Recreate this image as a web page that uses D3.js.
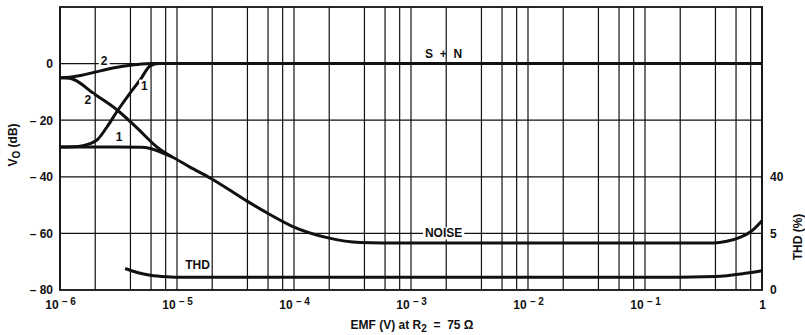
<!DOCTYPE html>
<html>
<head>
<meta charset="utf-8">
<title>S+N, Noise and THD vs EMF</title>
<script src="https://cdn.jsdelivr.net/npm/d3@7"></script>
<style>
  body { margin: 0; background: #fff; }
  svg text { font-family: "Liberation Sans", Arial, sans-serif; font-weight: bold; fill: #111; }
</style>
</head>
<body>
<script>
// curve data (EMF in volts, Vo in dB, THD in %)
var sn2X = [1e-6, 1.2e-6, 1.5e-6, 2e-6, 3e-6, 4e-6, 5e-6, 6e-6, 1e-5, 1];
var sn2Db = [-5, -4.8, -4.2, -3, -1.4, -0.6, -0.15, 0, 0, 0];

var sn1X = [1e-6, 1.3e-6, 1.57e-6, 1.8e-6, 2.07e-6, 2.52e-6, 3.13e-6, 3.97e-6, 4.84e-6, 5.9e-6, 7e-6, 1];
var sn1Db = [-29.5, -29.4, -29, -28.3, -27, -22.4, -16.4, -10.4, -5.8, -0.8, 0, 0];

var noise2X = [1e-6, 1.2e-6, 1.34e-6, 1.91e-6, 3.08e-6, 4.57e-6, 6.76e-6, 9.1e-6];
var noise2Db = [-5, -5.2, -5.8, -10.4, -16.4, -22.8, -29.5, -33];

var noise1X = [1e-6, 3e-6, 5e-6, 5.9e-6, 7.5e-6, 9.1e-6, 1.29e-5, 1.92e-5, 3.83e-5, 5.9e-5, 9.66e-5,
               1.92e-4, 3.68e-4, 8.7e-4, 1e-2, 1e-1, 0.386, 0.5, 0.656, 0.8, 1];
var noise1Db = [-29.5, -29.5, -29.6, -30, -31.5, -33, -36.6, -40.4, -48.2, -52.8, -57.5,
                -61.5, -63.2, -63.4, -63.4, -63.4, -63.4, -62.8, -61.3, -59.4, -55.5];

var thdX = [3.6e-6, 4.57e-6, 5.9e-6, 8.7e-6, 1e-5, 1e-3, 1e-1, 0.4, 0.7, 1];
var thdPct = [1.9, 1.55, 1.3, 1.15, 1.12, 1.12, 1.12, 1.2, 1.45, 1.7];

// axes
var yTicks = [0, -20, -40, -60, -80];
var yTickLabels = ["0", "\u2013 20", "\u2013 40", "\u2013 60", "\u2013 80"];
var xDecades = [1e-6, 1e-5, 1e-4, 1e-3, 1e-2, 1e-1, 1];
var xTickExponents = ["\u2013 6", "\u2013 5", "\u2013 4", "\u2013 3", "\u2013 2", "\u2013 1", ""];
var gridMultipliers = [1, 2, 4, 6, 8];
var thdTicks = [0, 5, 40];
var thdTickLabels = ["0", "5", "40"];

// curve labels: [text, EMF, dB]
var curveLabels = [
  ["2", 2.38e-6, -0.5],
  ["1", 5.27e-6, -9.2],
  ["2", 1.73e-6, -14.3],
  ["1", 3.2e-6, -27.3],
  ["S  +  N", 1.9e-3, 2.0],
  ["NOISE", 1.9e-3, -61.4],
  ["THD", 1.5e-5, -72.5]
];

var w = 805, h = 335;
var plotL = 60, plotR = 762, plotT = 7, plotB = 290;

var svg = d3.select("body").append("svg")
  .attr("width", w)
  .attr("height", h);

var x = d3.scaleLog().domain([1e-6, 1]).range([plotL, plotR]);
var y = d3.scaleLinear().domain([-80, 20]).range([plotB, plotT]);
// THD scale on the right is not linear: 0, 5 and 40 % sit on the -80, -60, -40 dB lines
var yThd = d3.scaleLinear().domain(thdTicks).range([y(-80), y(-60), y(-40)]);

// vertical grid
var gridX = [];
xDecades.slice(0, -1).forEach(function(d) {
  gridMultipliers.forEach(function(m) { gridX.push(d * m); });
});
gridX.push(1);

svg.append("g").selectAll("line")
  .data(gridX)
  .enter().append("line")
  .attr("x1", function(d) { return x(d); })
  .attr("x2", function(d) { return x(d); })
  .attr("y1", plotT)
  .attr("y2", plotB)
  .attr("stroke", "#111")
  .attr("stroke-width", 1.2);

svg.append("g").selectAll("line")
  .data([0, -20, -40, -60])
  .enter().append("line")
  .attr("x1", plotL)
  .attr("x2", plotR)
  .attr("y1", function(d) { return y(d); })
  .attr("y2", function(d) { return y(d); })
  .attr("stroke", "#111")
  .attr("stroke-width", 1.2);

// frame
svg.append("rect")
  .attr("x", plotL)
  .attr("y", plotT)
  .attr("width", plotR - plotL)
  .attr("height", plotB - plotT)
  .attr("fill", "none")
  .attr("stroke", "#111")
  .attr("stroke-width", 1.8);

// curves
var line = d3.line()
  .x(function(d) { return x(d[0]); })
  .y(function(d) { return y(d[1]); })
  .curve(d3.curveMonotoneX);

var thdLine = d3.line()
  .x(function(d) { return x(d[0]); })
  .y(function(d) { return yThd(d[1]); })
  .curve(d3.curveMonotoneX);

function pairs(xs, ys) { return xs.map(function(v, i) { return [v, ys[i]]; }); }

var curves = [
  pairs(sn2X, sn2Db),
  pairs(sn1X, sn1Db),
  pairs(noise2X, noise2Db),
  pairs(noise1X, noise1Db)
];

svg.append("g").selectAll("path")
  .data(curves)
  .enter().append("path")
  .attr("d", line)
  .attr("fill", "none")
  .attr("stroke", "#111")
  .attr("stroke-width", 3)
  .attr("stroke-linejoin", "round");

svg.append("path")
  .datum(pairs(thdX, thdPct))
  .attr("d", thdLine)
  .attr("fill", "none")
  .attr("stroke", "#111")
  .attr("stroke-width", 3);

// curve labels with white backing
var lab = svg.append("g").selectAll("g")
  .data(curveLabels)
  .enter().append("g")
  .attr("transform", function(d) { return "translate(" + x(d[1]) + "," + y(d[2]) + ")"; });

lab.append("text")
  .attr("text-anchor", "middle")
  .attr("font-size", "12px")
  .attr("xml:space", "preserve")
  .text(function(d) { return d[0]; });

lab.each(function(d) {
  var g = d3.select(this);
  if (d[0] === "S  +  N" || d[0] === "THD") return;
  var bb = g.select("text").node().getBBox();
  g.insert("rect", "text")
    .attr("x", bb.x - 2)
    .attr("y", bb.y + 1)
    .attr("width", bb.width + 4)
    .attr("height", bb.height - 2)
    .attr("fill", "#fff");
});

// left axis
var yAxis = d3.axisLeft(y)
  .tickValues(yTicks)
  .tickSize(0)
  .tickPadding(7)
  .tickFormat(function(d, i) { return yTickLabels[i]; });

svg.append("g")
  .attr("transform", "translate(" + plotL + ",0)")
  .call(yAxis)
  .call(function(g) { g.select(".domain").remove(); })
  .selectAll("text")
  .attr("font-size", "12px")
  .attr("xml:space", "preserve");

// right axis (THD)
var thdAxis = d3.axisRight(yThd)
  .tickValues(thdTicks)
  .tickSize(0)
  .tickPadding(8)
  .tickFormat(function(d, i) { return thdTickLabels[i]; });

svg.append("g")
  .attr("transform", "translate(" + plotR + ",0)")
  .call(thdAxis)
  .call(function(g) { g.select(".domain").remove(); })
  .selectAll("text")
  .attr("font-size", "12px");

// bottom axis with 10^n labels
var xAxis = d3.axisBottom(x)
  .tickValues(xDecades)
  .tickSize(0)
  .tickPadding(10)
  .tickFormat(function() { return ""; });

svg.append("g")
  .attr("transform", "translate(0," + plotB + ")")
  .call(xAxis)
  .call(function(g) { g.select(".domain").remove(); })
  .selectAll("text")
  .attr("font-size", "12px")
  .attr("xml:space", "preserve")
  .each(function(d, i) {
    var t = d3.select(this);
    if (xTickExponents[i] === "") { t.text("1"); return; }
    t.append("tspan").text("10 ");
    t.append("tspan").attr("dy", "-4").attr("font-size", "10px").text(xTickExponents[i]);
  });

// axis titles
var xt = svg.append("text")
  .attr("x", 412)
  .attr("y", 329)
  .attr("text-anchor", "middle")
  .attr("font-size", "12px")
  .attr("xml:space", "preserve");
xt.append("tspan").text("EMF (V) at R");
xt.append("tspan").attr("dy", 3).attr("font-size", "10px").text("2");
xt.append("tspan").attr("dy", -3).text("  =  75 \u03A9");

var yt = svg.append("text")
  .attr("transform", "translate(17,145) rotate(-90)")
  .attr("text-anchor", "middle")
  .attr("font-size", "12px");
yt.append("tspan").text("V");
yt.append("tspan").attr("dy", 3).attr("font-size", "10px").text("O");
yt.append("tspan").attr("dy", -3).text(" (dB)");

svg.append("text")
  .attr("transform", "translate(802,237) rotate(-90)")
  .attr("text-anchor", "middle")
  .attr("font-size", "12px")
  .text("THD (%)");
</script>
</body>
</html>
